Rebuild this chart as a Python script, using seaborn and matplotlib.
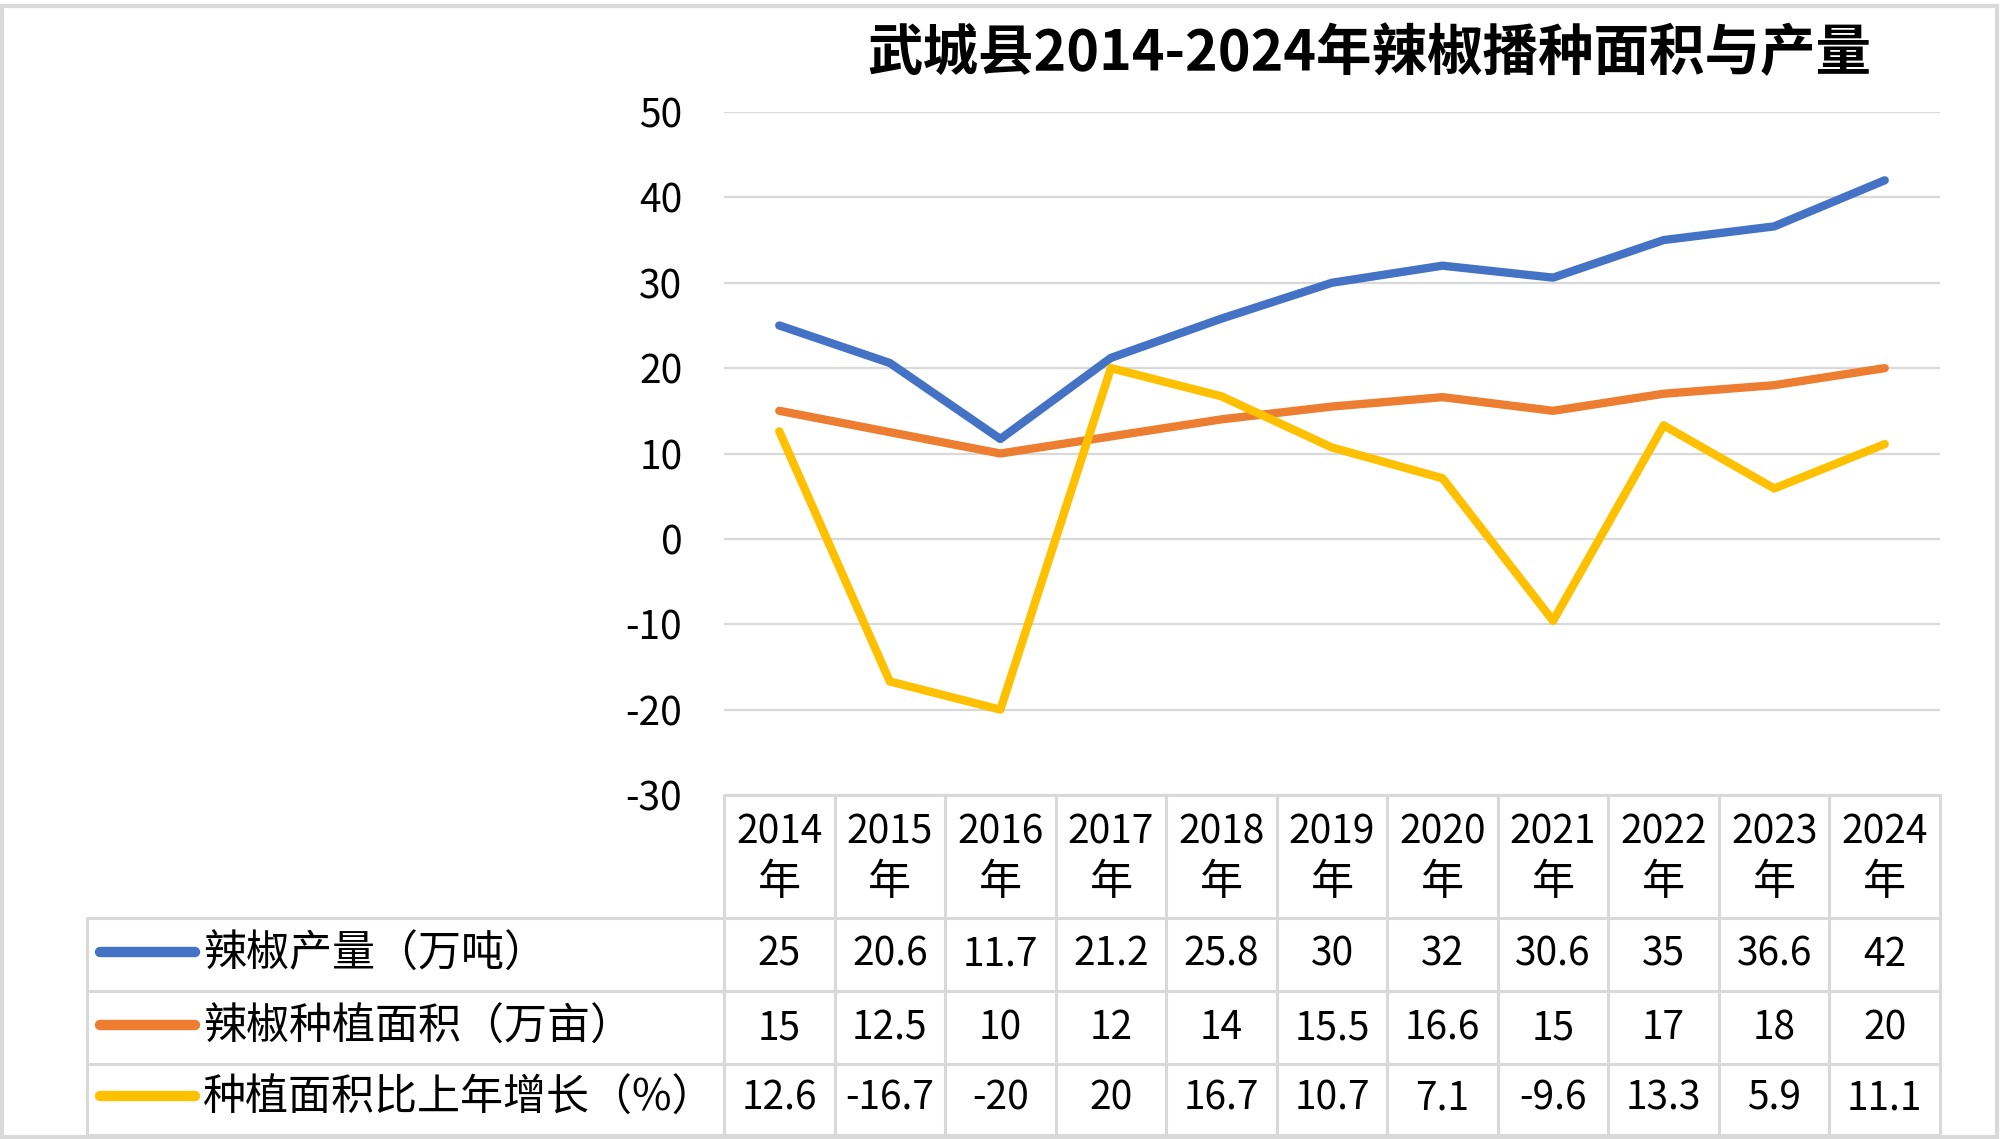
import matplotlib
matplotlib.use("Agg")
import matplotlib.pyplot as plt
import matplotlib.transforms as mtransforms
from matplotlib.patches import Rectangle
from matplotlib.lines import Line2D
import seaborn as sns
import pandas as pd

# ---------------- data ----------------
years = ["2014", "2015", "2016", "2017", "2018", "2019", "2020", "2021", "2022", "2023", "2024"]
production = [25, 20.6, 11.7, 21.2, 25.8, 30, 32, 30.6, 35, 36.6, 42]
area = [15, 12.5, 10, 12, 14, 15.5, 16.6, 15, 17, 18, 20]
growth = [12.6, -16.7, -20, 20, 16.7, 10.7, 7.1, -9.6, 13.3, 5.9, 11.1]
series_names = ["辣椒产量（万吨）", "辣椒种植面积（万亩）", "种植面积比上年增长（%）"]
series_values = [production, area, growth]
colors = ["#4472C4", "#ED7D31", "#FFC000"]
title = "武城县2014-2024年辣椒播种面积与产量"
yticks = [-30, -20, -10, 0, 10, 20, 30, 40, 50]

# ---------------- style ----------------
sns.set_style("white")
plt.rcParams["font.family"] = ["Noto Sans CJK SC", "DejaVu Sans"]

W, H = 2000, 1139
fig = plt.figure(figsize=(W / 100, H / 100), dpi=100)

# plot area in pixels
px_left, px_right = 724, 1940
px_top, px_bottom = 112, 795
ax = fig.add_axes([px_left / W, 1 - px_bottom / H,
                   (px_right - px_left) / W, (px_bottom - px_top) / H])

rows = []
for name, vals in zip(series_names, series_values):
    for i, v in enumerate(vals):
        rows.append({"idx": i, "value": v, "series": name})
df = pd.DataFrame(rows)

sns.lineplot(data=df, x="idx", y="value", hue="series", hue_order=series_names,
             palette=colors, linewidth=6, ax=ax, legend=False, sort=False,
             zorder=3)
for ln in ax.get_lines():
    ln.set_solid_capstyle("round")
    ln.set_solid_joinstyle("round")

ax.set_xlim(-0.5, len(years) - 0.5)
ax.set_ylim(-30, 50)
ax.set_yticks(yticks)
ax.set_yticklabels([str(t) for t in yticks])
ax.set_xticks([])
ax.set_xlabel("")
ax.set_ylabel("")
ax.tick_params(axis="y", length=0, pad=30, labelsize=28, labelcolor="black")
ax.grid(axis="y", color="#D9D9D9", linewidth=1.6)
ax.set_axisbelow(True)
for s in ax.spines.values():
    s.set_visible(False)

# ---------------- data table ----------------
grid_color = "#D9D9D9"
ph = px_bottom - px_top  # pixel height of axes


def yfrac(p):
    return (px_bottom - p) / ph


col_w = (px_right - px_left) / len(years)


def xdata(p):
    return (p - px_left) / col_w - 0.5


trans = mtransforms.blended_transform_factory(ax.transData, ax.transAxes)
row_lines = [795, 918, 991, 1064, 1135]
legend_left = 87

# horizontal lines
ax.add_line(Line2D([-0.5, len(years) - 0.5], [yfrac(795)] * 2, transform=trans,
                   color=grid_color, lw=2.2, clip_on=False))
for p in row_lines[1:]:
    ax.add_line(Line2D([xdata(legend_left), len(years) - 0.5], [yfrac(p)] * 2,
                       transform=trans, color=grid_color, lw=2.2, clip_on=False))
# vertical lines
for i in range(len(years) + 1):
    ax.add_line(Line2D([i - 0.5, i - 0.5], [yfrac(795), yfrac(1135)], transform=trans,
                       color=grid_color, lw=2.2, clip_on=False))
ax.add_line(Line2D([xdata(legend_left)] * 2, [yfrac(918), yfrac(1135)], transform=trans,
                   color=grid_color, lw=2.2, clip_on=False))

fs = 28
fs_cjk = 31
for i, y in enumerate(years):
    ax.text(i, yfrac(833), y, transform=trans, ha="center", va="center",
            fontsize=fs, color="black", clip_on=False)
    ax.text(i, yfrac(883), "年", transform=trans, ha="center", va="center",
            fontsize=fs_cjk, color="black", clip_on=False)

row_centers = [955, 1028, 1099]
for r, (name, vals, c) in enumerate(zip(series_names, series_values, colors)):
    yc = yfrac(row_centers[r])
    for i, v in enumerate(vals):
        ax.text(i, yc, f"{v:g}", transform=trans, ha="center", va="center",
                fontsize=fs, color="black", clip_on=False)
    ax.add_line(Line2D([xdata(100), xdata(195)], [yfrac(row_centers[r] - 3)] * 2,
                       transform=trans, color=c, lw=7.5, solid_capstyle="round",
                       clip_on=False))
    ax.text(xdata(203), yc, name, transform=trans, ha="left", va="center",
            fontsize=fs_cjk, color="black", clip_on=False)

# ---------------- title & frame ----------------
fig.text(1369 / W, 1 - 54 / H, title, ha="center", va="center",
         fontsize=40, fontweight="bold", color="black")
fig.patches.append(Rectangle((2 / W, 2 / H), 1 - 5 / W, 1 - 8 / H,
                             transform=fig.transFigure, fill=False,
                             edgecolor="#D9D9D9", linewidth=3))

fig.savefig("out.png", dpi=100, facecolor="white")
